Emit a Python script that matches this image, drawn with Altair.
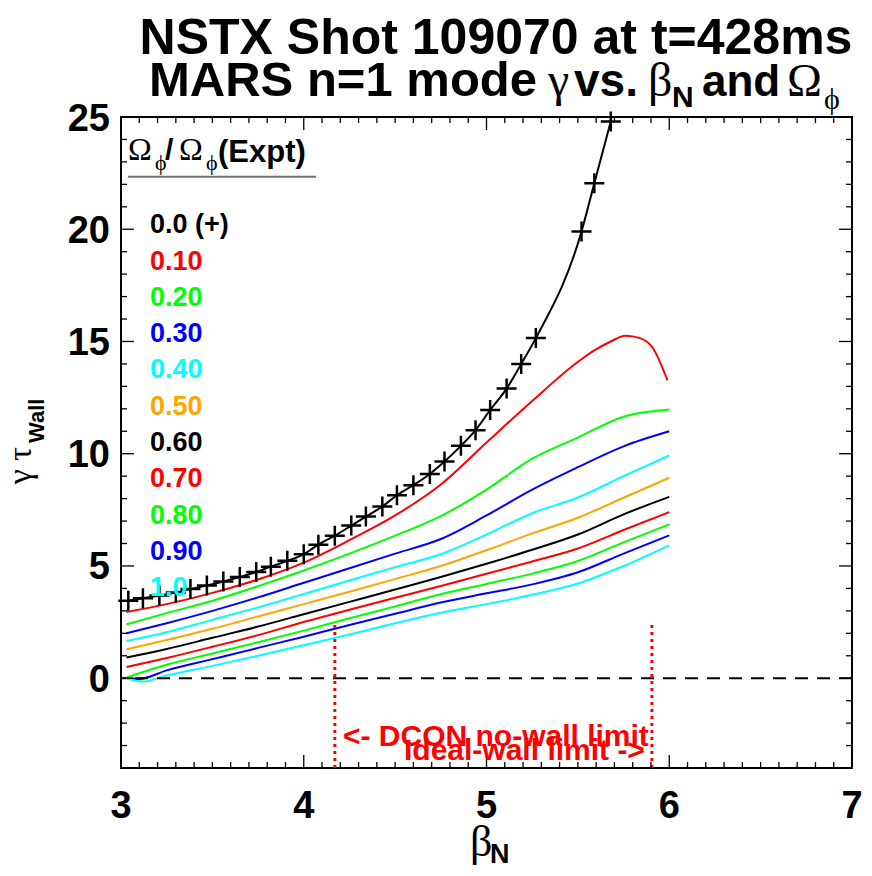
import altair as alt
import pandas as pd

# ---------------- data ----------------
omega_labels = ["0.0 (+)", "0.10", "0.20", "0.30", "0.40", "0.50", "0.60", "0.70", "0.80", "0.90", "1.0"]
series_names = ["0.0", "0.10", "0.20", "0.30", "0.40", "0.50", "0.60", "0.70", "0.80", "0.90", "1.0"]
series_colors = ["#000000", "#FF0000", "#00FF00", "#0000FF", "#00FFFF", "#FFA500",
                 "#000000", "#FF0000", "#00FF00", "#0000FF", "#00FFFF"]

beta_00 = [3.04, 3.12, 3.21, 3.30, 3.38, 3.47, 3.56, 3.65, 3.74, 3.82, 3.91, 4.00, 4.08, 4.17, 4.26,
           4.34, 4.43, 4.51, 4.60, 4.69, 4.77, 4.86, 4.94, 5.02, 5.11, 5.19, 5.27, 5.52, 5.59, 5.68]
gam_00 = [3.45, 3.56, 3.68, 3.82, 3.97, 4.13, 4.31, 4.51, 4.73, 4.97, 5.23, 5.52, 5.95, 6.35, 6.80,
          7.20, 7.65, 8.15, 8.60, 9.10, 9.65, 10.35, 11.05, 11.95, 12.90, 14.00, 15.15, 19.90, 22.05, 24.80]

beta_01 = [3.03, 3.25, 3.5, 3.75, 4.0, 4.25, 4.5, 4.75, 5.0, 5.25, 5.51, 5.59, 5.68, 5.76, 5.84, 5.91, 5.99]
gam_01 = [2.95, 3.30, 3.80, 4.40, 5.15, 6.15, 7.25, 8.63, 10.50, 12.35, 14.15, 14.60, 15.00, 15.26, 15.15, 14.71, 13.27]

beta_grid = [3.03, 3.25, 3.5, 3.75, 4.0, 4.25, 4.5, 4.75, 5.0, 5.25, 5.5, 5.75, 6.0]
gam_02 = [2.40, 2.90, 3.45, 4.10, 4.80, 5.55, 6.35, 7.22, 8.40, 9.78, 10.72, 11.65, 11.97]
gam_03 = [2.00, 2.45, 3.00, 3.60, 4.25, 4.90, 5.55, 6.20, 7.25, 8.40, 9.40, 10.33, 11.00]
gam_04 = [1.66, 2.05, 2.60, 3.15, 3.75, 4.35, 4.95, 5.52, 6.40, 7.35, 8.05, 9.00, 9.92]
gam_05 = [1.29, 1.70, 2.20, 2.75, 3.30, 3.85, 4.42, 5.00, 5.70, 6.45, 7.15, 8.04, 8.93]
gam_06 = [0.92, 1.30, 1.80, 2.30, 2.85, 3.40, 3.95, 4.51, 5.10, 5.72, 6.40, 7.30, 8.08]
gam_07 = [0.50, 0.90, 1.40, 1.92, 2.50, 3.05, 3.58, 4.11, 4.65, 5.20, 5.78, 6.60, 7.40]
gam_08 = [0.03, 0.60, 1.10, 1.60, 2.12, 2.67, 3.20, 3.74, 4.20, 4.66, 5.22, 6.05, 6.85]
beta_09 = [3.03, 3.10, 3.25, 3.5, 3.75, 4.0, 4.25, 4.5, 4.75, 5.0, 5.25, 5.5, 5.75, 6.0]
gam_09 = [0.00, -0.03, 0.35, 0.85, 1.35, 1.85, 2.37, 2.87, 3.37, 3.78, 4.18, 4.72, 5.55, 6.36]
beta_10 = [3.03, 3.12, 3.25, 3.5, 3.75, 4.0, 4.25, 4.5, 4.75, 5.0, 5.25, 5.5, 5.75, 6.0]
gam_10 = [0.00, -0.15, 0.12, 0.55, 1.00, 1.47, 1.95, 2.45, 2.92, 3.30, 3.72, 4.22, 5.00, 5.92]

curve_betas = [beta_00, beta_01, beta_grid, beta_grid, beta_grid, beta_grid, beta_grid, beta_grid, beta_grid, beta_09, beta_10]
curve_gammas = [gam_00, gam_01, gam_02, gam_03, gam_04, gam_05, gam_06, gam_07, gam_08, gam_09, gam_10]

limit_betas = [4.17, 5.905]   # DCON no-wall limit, ideal-wall limit
limit_top = 2.5
x_major = [3, 4, 5, 6, 7]
x_minor = [round(3 + 0.1 * i, 1) for i in range(41) if i % 10 != 0]
y_major = [0, 5, 10, 15, 20, 25]
y_minor = [v for v in range(-4, 26) if v % 5 != 0]

# ---------------- layout ----------------
W, H = 731, 651
SANS = "Liberation Sans, Arial, sans-serif"
SERIF = "Liberation Serif, Times New Roman, serif"
PHI = "\u03d5"

x_scale = alt.Scale(domain=[3, 7], nice=False, zero=False)
y_scale = alt.Scale(domain=[-4, 25], nice=False, zero=False)

rows = []
for name, bs, gs in zip(series_names, curve_betas, curve_gammas):
    for b, g in zip(bs, gs):
        rows.append({"beta": b, "gamma": g, "series": name})
df = pd.DataFrame(rows)

lines = alt.Chart(df).mark_line(strokeWidth=2, clip=True, interpolate="monotone").encode(
    x=alt.X("beta:Q", scale=x_scale, axis=None),
    y=alt.Y("gamma:Q", scale=y_scale, axis=None),
    color=alt.Color("series:N", scale=alt.Scale(domain=series_names, range=series_colors), legend=None),
    detail="series:N",
)

df0 = pd.DataFrame({"beta": beta_00, "gamma": gam_00})
plus = alt.Chart(df0).mark_point(shape="M-1,0L1,0M0,-1L0,1", size=400, filled=False,
                                 stroke="black", strokeWidth=2.5, opacity=1).encode(
    x=alt.X("beta:Q", scale=x_scale, axis=None),
    y=alt.Y("gamma:Q", scale=y_scale, axis=None),
)

zero_line = alt.Chart(pd.DataFrame({"z": [0]})).mark_rule(
    color="black", strokeWidth=2, strokeDash=[13, 9]).encode(
    y=alt.Y("z:Q", scale=y_scale, axis=None))

lim_df = pd.DataFrame({"beta": limit_betas, "top": [limit_top] * 2, "bot": [-4] * 2})
limits = alt.Chart(lim_df).mark_rule(color="#FF0000", strokeWidth=3, strokeDash=[3, 4]).encode(
    x=alt.X("beta:Q", scale=x_scale, axis=None),
    y=alt.Y("bot:Q", scale=y_scale, axis=None),
    y2="top:Q",
)


def ticks_x(vals, length, top):
    y0 = 0 if top else H
    y1 = length if top else H - length
    return alt.Chart(pd.DataFrame({"v": vals})).mark_rule(color="black", strokeWidth=1.3).encode(
        x=alt.X("v:Q", scale=x_scale, axis=None), y=alt.value(y0), y2=alt.value(y1))


def ticks_y(vals, length, right):
    x0 = W if right else 0
    x1 = W - length if right else length
    return alt.Chart(pd.DataFrame({"v": vals})).mark_rule(color="black", strokeWidth=1.3).encode(
        y=alt.Y("v:Q", scale=y_scale, axis=None), x=alt.value(x0), x2=alt.value(x1))


tick_layers = [ticks_x(x_major, 13, False), ticks_x(x_minor, 6, False),
               ticks_x(x_major, 13, True), ticks_x(x_minor, 6, True),
               ticks_y(y_major, 13, False), ticks_y(y_minor, 6, False),
               ticks_y(y_major, 13, True), ticks_y(y_minor, 6, True)]

# tick labels (drawn through the scales)
x_labels = alt.Chart(pd.DataFrame({"v": x_major})).mark_text(
    font=SANS, fontSize=38, fontWeight="bold", color="black", align="center", baseline="alphabetic").encode(
    x=alt.X("v:Q", scale=x_scale, axis=None), y=alt.value(701), text=alt.Text("v:Q", format="d"))
y_labels = alt.Chart(pd.DataFrame({"v": y_major})).mark_text(
    font=SANS, fontSize=38, fontWeight="bold", color="black", align="right", baseline="alphabetic",
    dy=13.5).encode(
    y=alt.Y("v:Q", scale=y_scale, axis=None), x=alt.value(-11), text=alt.Text("v:Q", format="d"))


def txt(s, x, y, size, color="black", font=SANS, weight="bold", align="left", angle=0):
    kw = dict(font=font, fontSize=size, fontWeight=weight, color=color, align=align,
              baseline="alphabetic")
    if angle:
        kw["angle"] = angle
    return alt.Chart(pd.DataFrame({"t": [s]})).mark_text(**kw).encode(
        text="t:N", x=alt.value(x), y=alt.value(y))


texts = [
    # title
    txt("NSTX Shot 109070 at t=428ms", 375, -63, 50, align="center"),
    txt("MARS n=1 mode", 416, -21, 49, align="right"),
    txt("γ", 427, -21, 48, font=SERIF, weight="normal"),
    txt("vs.", 453, -21, 46),
    txt("β", 527, -21, 48, font=SERIF, weight="normal"),
    txt("N", 551, -10, 30),
    txt("and", 581, -21, 44),
    txt("Ω", 666, -21, 47, font=SERIF, weight="normal"),
    txt(PHI, 703, -8, 30, font=SERIF, weight="normal"),
    # axis titles
    txt("β", 349, 739, 44, font=SERIF, weight="normal"),
    txt("N", 369, 746, 27),
    txt("γ τ", -90, 330, 34, font=SERIF, weight="normal", align="right", angle=270),
    txt("Wall", -77, 326, 22, angle=270),
    # legend title
    txt("Ω", 7, 43, 32, font=SERIF, weight="normal"),
    txt(PHI, 34, 53, 22, font=SERIF, weight="normal"),
    txt("/", 44, 43, 30),
    txt("Ω", 58, 43, 32, font=SERIF, weight="normal"),
    txt(PHI, 85, 53, 22, font=SERIF, weight="normal"),
    txt("(Expt)", 97, 45, 31),
    # annotations
    txt("<- DCON no-wall limit", 222, 629, 30, color="#FF0000"),
    txt("Ideal-wall limit ->", 283, 643, 30, color="#FF0000"),
]
for i, (lab, col) in enumerate(zip(omega_labels, series_colors)):
    texts.append(txt(lab, 29, 116.2 + 36.3 * i, 27, color=col))

underline = alt.Chart(pd.DataFrame({"a": [0]})).mark_rule(color="#707070", strokeWidth=2).encode(
    x=alt.value(7), x2=alt.value(195), y=alt.value(59.7))

chart = alt.layer(lines, plus, zero_line, limits, underline, *tick_layers,
                  x_labels, y_labels, *texts).properties(
    width=W, height=H,
    padding={"left": 121, "top": 117, "right": 20, "bottom": 108},
    autosize=alt.AutoSizeParams(type="none"),
).configure_view(stroke="black", strokeWidth=2)

chart.save("out.html", embed_options={"renderer": "svg", "actions": False})
